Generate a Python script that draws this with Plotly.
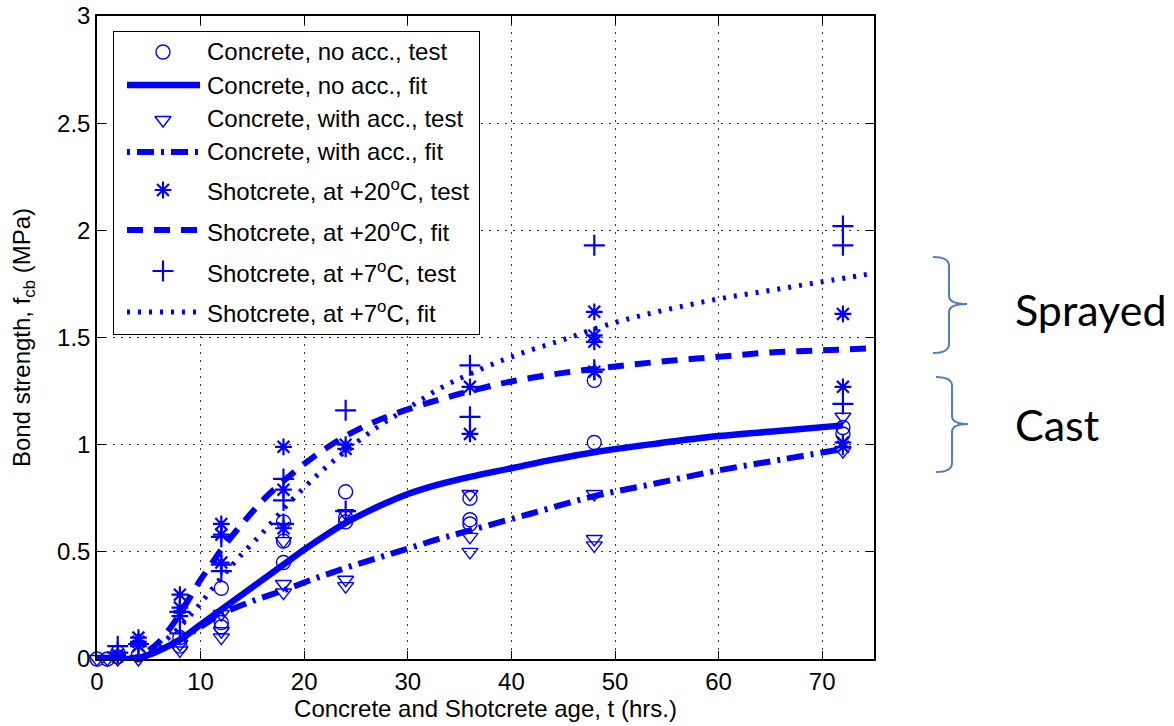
import plotly.graph_objects as go

# ---------------- data ----------------
# Concrete, no accelerator, test (circles)
t_noacc = [0, 1, 2, 2, 4, 8, 8, 12, 12, 12, 18, 18, 18, 24, 24, 24, 36, 36, 36, 48, 48, 72, 72]
v_noacc = [0.0, 0.0, 0.01, 0.03, 0.02, 0.10, 0.06, 0.33, 0.17, 0.15, 0.64, 0.55, 0.45,
           0.78, 0.66, 0.64, 0.75, 0.65, 0.63, 1.30, 1.01, 1.08, 1.05]
# Concrete, with accelerator, test (triangles)
t_acc = [0, 1, 2, 4, 8, 8, 12, 12, 12, 18, 18, 18, 24, 24, 24, 36, 36, 36, 48, 48, 48, 72, 72]
v_acc = [0.0, 0.0, 0.0, 0.0, 0.07, 0.04, 0.21, 0.13, 0.10, 0.55, 0.35, 0.31, 0.68, 0.37, 0.34,
         0.77, 0.57, 0.50, 0.77, 0.56, 0.53, 1.13, 0.97]
# Shotcrete at +20 C, test (asterisks)
t_s20 = [2, 4, 4, 4, 8, 8, 8, 12, 12, 12, 18, 18, 18, 24, 24, 36, 36, 48, 48, 48, 48, 72, 72, 72, 72]
v_s20 = [0.02, 0.10, 0.08, 0.06, 0.30, 0.24, 0.20, 0.63, 0.58, 0.45, 0.99, 0.79, 0.61,
         1.00, 0.98, 1.27, 1.05, 1.62, 1.51, 1.48, 1.34, 1.61, 1.27, 1.01, 0.99]
# Shotcrete at +7 C, test (plus)
t_s7 = [2, 2, 4, 8, 8, 12, 12, 12, 18, 18, 18, 24, 24, 36, 36, 48, 48, 72, 72, 72]
v_s7 = [0.06, 0.03, 0.07, 0.22, 0.12, 0.57, 0.44, 0.41, 0.84, 0.74, 0.63, 1.16, 0.69,
        1.37, 1.13, 1.93, 1.35, 2.02, 1.93, 1.19]

# Fit curves
tf_noacc = [0, 3, 4, 5, 6, 8, 10, 12, 14, 16, 18, 20, 22, 24, 26, 28, 30, 33, 36, 40, 44,
            48, 54, 60, 66, 72]
vf_noacc = [0, 0, 0.005, 0.02, 0.04, 0.09, 0.16, 0.23, 0.30, 0.37, 0.44, 0.51, 0.575, 0.635,
            0.685, 0.73, 0.77, 0.815, 0.85, 0.89, 0.93, 0.965, 1.005, 1.04, 1.065, 1.09]
tf_acc = [0, 4, 5, 6, 8, 10, 12, 15, 18, 21, 24, 27, 30, 33, 36, 42, 48, 54, 60, 66, 72]
vf_acc = [0, 0, 0.02, 0.04, 0.09, 0.15, 0.21, 0.27, 0.32, 0.375, 0.425, 0.47, 0.515, 0.56,
          0.60, 0.68, 0.76, 0.82, 0.88, 0.93, 0.98]
tf_s20 = [0, 3, 4, 5, 6, 7, 8, 9, 10, 11, 12, 14, 16, 18, 20, 22, 24, 26, 28, 30, 33, 36, 40,
          45, 50, 55, 60, 65, 70, 75]
vf_s20 = [0, 0, 0.01, 0.04, 0.08, 0.14, 0.21, 0.29, 0.37, 0.44, 0.51, 0.63, 0.74, 0.83,
          0.91, 0.98, 1.04, 1.09, 1.13, 1.165, 1.21, 1.25, 1.295, 1.335, 1.365, 1.39, 1.41,
          1.43, 1.44, 1.45]
tf_s7 = [0, 4, 5, 6, 8, 10, 12, 14, 16, 18, 20, 22, 24, 27, 30, 33, 36, 40, 45, 50, 55,
         60, 65, 70, 75]
vf_s7 = [0, 0, 0.02, 0.06, 0.15, 0.26, 0.38, 0.49, 0.59, 0.70, 0.80, 0.89, 0.97, 1.08,
         1.17, 1.26, 1.33, 1.41, 1.49, 1.57, 1.63, 1.68, 1.72, 1.76, 1.80]

x_ticks = [0, 10, 20, 30, 40, 50, 60, 70]
y_ticks = [0, 0.5, 1, 1.5, 2, 2.5, 3]
y_ticktext = ["0", "0.5", "1", "1.5", "2", "2.5", "3"]

legend_labels = [
    "Concrete, no acc., test",
    "Concrete, no acc., fit",
    "Concrete, with acc., test",
    "Concrete, with acc., fit",
    "Shotcrete, at +20<sup>o</sup>C, test",
    "Shotcrete, at +20<sup>o</sup>C, fit",
    "Shotcrete, at +7<sup>o</sup>C, test",
    "Shotcrete, at +7<sup>o</sup>C, fit",
]

# ---------------- styling ----------------
W, H = 1174, 726
PL, PR, PT, PB = 97, 874, 16, 659      # plot area, in pixels
BLUE = "#0000FF"
FONT = "Liberation Sans, Arial, Helvetica, sans-serif"
BRACE = "#4F81BD"


def px2x(px):
    return (px - PL) / (PR - PL)


def py2y(py):
    return (PB - py) / (PB - PT)


mk_circle = dict(symbol="circle-open", size=14, color=BLUE, line=dict(color=BLUE, width=1.4))
mk_tri = dict(symbol="triangle-down-open", size=14, color=BLUE, line=dict(color=BLUE, width=1.4))
mk_star = dict(symbol="asterisk-open", size=14, color=BLUE, line=dict(color=BLUE, width=2.2))
mk_plus = dict(symbol="cross-thin-open", size=15, color=BLUE, line=dict(color=BLUE, width=2.2))

SM = 1.0
ln_solid = dict(color=BLUE, width=6.5, shape="spline", smoothing=SM)
ln_dashdot = dict(color=BLUE, width=6, dash="3px,7px,17px,7px", shape="spline", smoothing=SM)
ln_dash = dict(color=BLUE, width=6, dash="16px,11px", shape="spline", smoothing=SM)
ln_dot = dict(color=BLUE, width=5, dash="3px,8px", shape="spline", smoothing=SM)

fig = go.Figure()

series = [
    ("markers", t_noacc, v_noacc, mk_circle, None),
    ("lines", tf_noacc, vf_noacc, None, ln_solid),
    ("markers", t_acc, v_acc, mk_tri, None),
    ("lines", tf_acc, vf_acc, None, ln_dashdot),
    ("markers", t_s20, v_s20, mk_star, None),
    ("lines", tf_s20, vf_s20, None, ln_dash),
    ("markers", t_s7, v_s7, mk_plus, None),
    ("lines", tf_s7, vf_s7, None, ln_dot),
]

for mode, xs, ys, mk, ln in series:
    if mode == "markers":
        fig.add_trace(go.Scatter(x=xs, y=ys, mode="markers", marker=mk,
                                 cliponaxis=False, showlegend=False, hoverinfo="skip"))
    else:
        fig.add_trace(go.Scatter(x=xs, y=ys, mode="lines", line=ln,
                                 showlegend=False, hoverinfo="skip"))

# ---------------- hand-drawn legend on an inset axis (pixel units) ----------------
LX0, LX1, LY0, LY1 = 113, 480, 31, 335
sample_y = [52, 85, 120, 152, 190, 230, 271, 312]
text_y = [52, 86, 119, 152, 190, 231, 272, 312]

for i, (mode, xs, ys, mk, ln) in enumerate(series):
    if mode == "markers":
        fig.add_trace(go.Scatter(x=[163], y=[sample_y[i]], mode="markers", marker=mk,
                                 xaxis="x2", yaxis="y2", showlegend=False, hoverinfo="skip",
                                 cliponaxis=False))
    else:
        l2 = dict(ln)
        l2.pop("shape", None)
        l2.pop("smoothing", None)
        fig.add_trace(go.Scatter(x=[127, 200], y=[sample_y[i]] * 2, mode="lines", line=l2,
                                 xaxis="x2", yaxis="y2", showlegend=False, hoverinfo="skip",
                                 cliponaxis=False))
    fig.add_annotation(x=205, y=text_y[i], xref="x2", yref="y2", text=legend_labels[i],
                       showarrow=False, xanchor="left", yanchor="middle",
                       font=dict(family=FONT, size=24, color="black"))

fig.add_shape(type="rect", xref="x2", yref="y2", x0=LX0, x1=LX1, y0=LY0, y1=LY1,
              fillcolor="white", line=dict(color="black", width=2), layer="between")

# ---------------- braces and side labels ----------------
def brace(x_end, x_mid, x_tip, y_top, y_tip, y_bot):
    pts = [
        ("M", [(x_end, y_top)]),
        ("Q", [(x_mid, y_top), (x_mid, y_top + 9)]),
        ("L", [(x_mid, y_tip - 8)]),
        ("Q", [(x_mid, y_tip), (x_tip, y_tip)]),
        ("Q", [(x_mid, y_tip), (x_mid, y_tip + 8)]),
        ("L", [(x_mid, y_bot - 9)]),
        ("Q", [(x_mid, y_bot), (x_end, y_bot)]),
    ]
    s = ""
    for cmd, plist in pts:
        s += cmd + " ".join(f"{px2x(px):.5f},{py2y(py):.5f}" for px, py in plist) + " "
    return s.strip()


fig.add_shape(type="path", xref="paper", yref="paper",
              path=brace(933, 949, 967, 257, 304, 353),
              line=dict(color=BRACE, width=2))
fig.add_shape(type="path", xref="paper", yref="paper",
              path=brace(936, 952, 968, 377, 424, 472),
              line=dict(color=BRACE, width=2))

SIDE_FONT = "Lato, Liberation Sans, sans-serif"
fig.add_annotation(x=px2x(1013), y=py2y(309), xref="paper", yref="paper", text="Sprayed",
                   showarrow=False, xanchor="left", yanchor="middle",
                   font=dict(family=SIDE_FONT, size=43, color="black"))
fig.add_annotation(x=px2x(1013), y=py2y(424), xref="paper", yref="paper", text="Cast",
                   showarrow=False, xanchor="left", yanchor="middle",
                   font=dict(family=SIDE_FONT, size=43, color="black"))

# ---------------- axes ----------------
axis_common = dict(
    showline=True, linecolor="black", linewidth=1.5, mirror="ticks",
    ticks="inside", ticklen=8, tickwidth=1, tickcolor="black",
    showgrid=True, gridcolor="#333333", gridwidth=1, griddash="2px,6px",
    zeroline=False, tickfont=dict(family=FONT, size=24, color="black"),
    automargin=False, ticklabeloverflow="allow",
)

fig.update_layout(
    width=W, height=H,
    margin=dict(l=PL, r=W - PR, t=PT, b=H - PB),
    paper_bgcolor="white", plot_bgcolor="white",
    font=dict(family=FONT, color="black"),
    xaxis=dict(range=[0, 75], tickvals=x_ticks, **axis_common,
               title=dict(text="Concrete and Shotcrete age, t (hrs.)",
                          font=dict(family=FONT, size=24, color="black"), standoff=2)),
    yaxis=dict(range=[0, 3], tickvals=y_ticks, ticktext=y_ticktext, **axis_common,
               title=dict(text="Bond strength, f<sub>cb</sub> (MPa)",
                          font=dict(family=FONT, size=24, color="black"), standoff=20)),
    xaxis2=dict(domain=[px2x(LX0), px2x(LX1)], range=[LX0, LX1], anchor="y2",
                visible=False, fixedrange=True),
    yaxis2=dict(domain=[py2y(LY1), py2y(LY0)], range=[LY1, LY0], anchor="x2",
                visible=False, fixedrange=True),
    showlegend=False,
)

# remove the browser's default 8px body margin so the figure sits at the page origin
fig.write_html("out.html",
               config={"displayModeBar": False},
               post_script="document.body.style.margin='0px';document.body.style.overflow='hidden';")
